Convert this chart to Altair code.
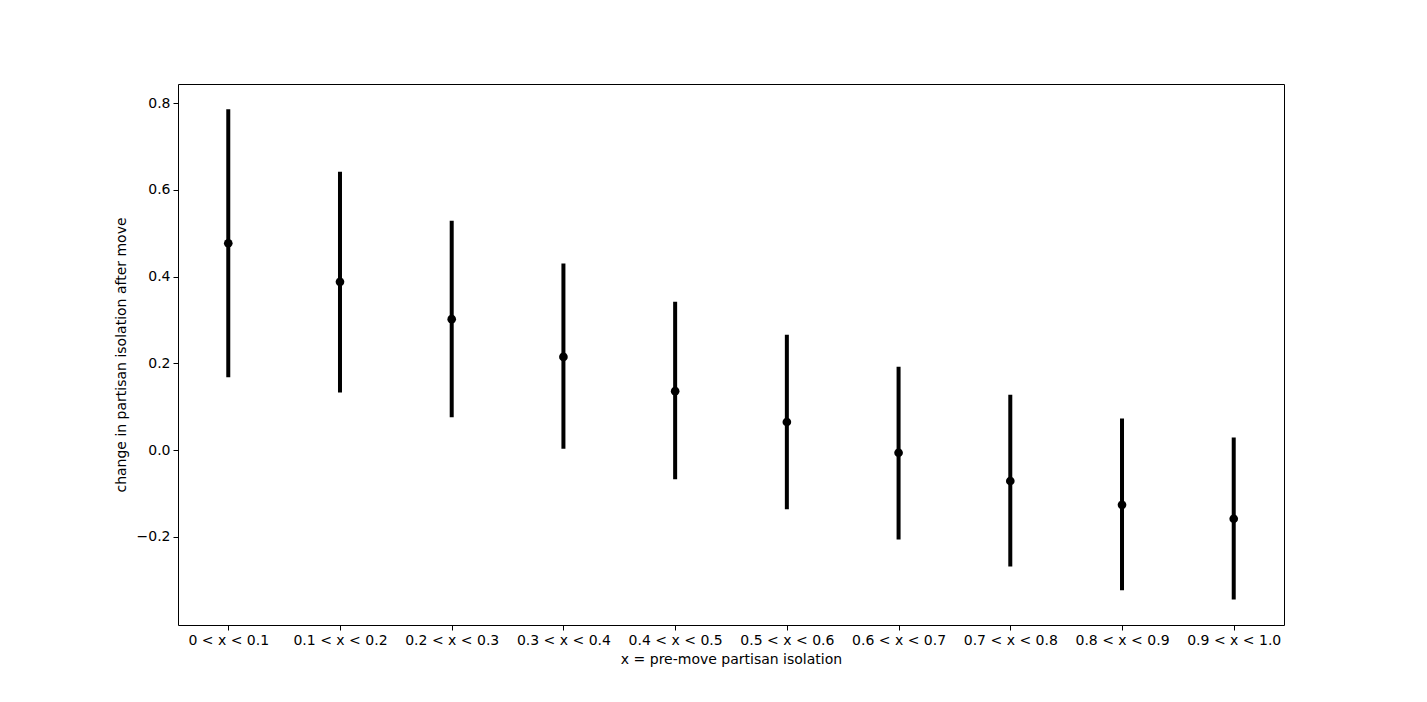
import altair as alt
import pandas as pd

categories = ["0 < x < 0.1", "0.1 < x < 0.2", "0.2 < x < 0.3", "0.3 < x < 0.4",
              "0.4 < x < 0.5", "0.5 < x < 0.6", "0.6 < x < 0.7", "0.7 < x < 0.8",
              "0.8 < x < 0.9", "0.9 < x < 1.0"]
means = [0.477, 0.388, 0.302, 0.215, 0.136, 0.065, -0.006, -0.071, -0.126, -0.158]
lower = [0.168, 0.133, 0.076, 0.003, -0.067, -0.136, -0.206, -0.268, -0.323, -0.344]
upper = [0.786, 0.642, 0.529, 0.430, 0.342, 0.266, 0.192, 0.128, 0.073, 0.029]

df = pd.DataFrame({"cat": categories, "mean": means, "lo": lower, "hi": upper})

FONT = "DejaVu Sans"
FS = 14

x_enc = alt.X("cat:N", sort=categories,
              scale=alt.Scale(type="point", padding=0.45),
              axis=alt.Axis(title="x = pre-move partisan isolation", labelAngle=0,
                            domain=False, tickColor="black", tickSize=5,
                            labelPadding=3, titlePadding=5, labelColor="black",
                            titleColor="black", labelFontSize=FS, titleFontSize=FS,
                            labelFont=FONT, titleFont=FONT, titleFontWeight="normal",
                            grid=False))
y_scale = alt.Scale(domain=[-0.403, 0.844], nice=False, zero=False)

rules = alt.Chart(df).mark_rule(color="black", strokeWidth=4).encode(
    x=x_enc,
    y=alt.Y("lo:Q", scale=y_scale,
            axis=alt.Axis(title="change in partisan isolation after move",
                          values=[-0.2, 0.0, 0.2, 0.4, 0.6, 0.8],
                          labelExpr="replace(format(datum.value, '.1f'), '-', '\u2212')",
                          domain=False, tickColor="black", tickSize=5,
                          labelPadding=3, titlePadding=8, labelColor="black",
                          titleColor="black", labelFontSize=FS, titleFontSize=FS,
                          labelFont=FONT, titleFont=FONT, titleFontWeight="normal",
                          grid=False)),
    y2="hi:Q",
)

points = alt.Chart(df).mark_point(filled=True, color="black", opacity=1, size=75).encode(
    x=x_enc,
    y=alt.Y("mean:Q", scale=y_scale),
)

chart = alt.layer(rules, points).properties(
    width=1106, height=541,
    autosize=alt.AutoSizeParams(type="none"),
    padding={"left": 178, "top": 84, "right": 143, "bottom": 77},
).configure(
    background="white",
    view=alt.ViewConfig(stroke="black", strokeWidth=1, strokeOpacity=1),
)

chart.save("out.html", embed_options={"renderer": "svg", "actions": False})
